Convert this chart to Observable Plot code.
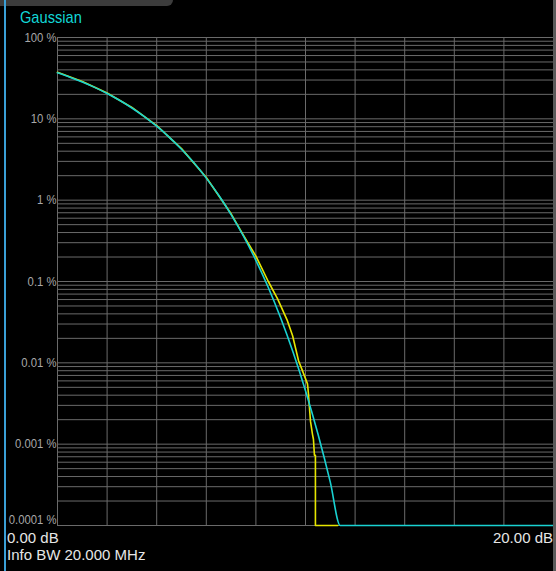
<!DOCTYPE html>
<html>
<head>
<meta charset="utf-8">
<script src="https://cdn.jsdelivr.net/npm/d3@7"></script>
<script src="https://cdn.jsdelivr.net/npm/@observablehq/plot@0.6"></script>
<style>
  html, body { margin: 0; padding: 0; background: #000; }
  #wrap { position: relative; width: 556px; height: 571px; background: #000; overflow: hidden;
          font-family: "Liberation Sans", Arial, sans-serif; }
  #wrap svg { position: absolute; left: 0; top: 0; }
  .lbl { position: absolute; white-space: nowrap; line-height: 14px; }
  .nl { transform: scaleX(0.86); transform-origin: left top; }
</style>
</head>
<body>
<div id="wrap">
  <div class="lbl" style="left:0;top:0;width:173px;height:6px;background:#3c3c3c;border-bottom-right-radius:6px;"></div>
  <div class="lbl" style="left:4px;top:0;width:2px;height:571px;background:#3a9fd6;"></div>
  <div class="lbl" style="left:553px;top:0;width:3px;height:571px;background:#5a5a5a;"></div>
  <div class="lbl nl" style="left:20px;top:11px;font-size:17px;color:#12d6d6;">Gaussian</div>
  <div class="lbl" style="left:7px;top:531.3px;font-size:15px;color:#e6e6e6;">0.00 dB</div>
  <div class="lbl" style="right:3px;top:531.3px;font-size:15px;color:#e6e6e6;">20.00 dB</div>
  <div class="lbl" style="left:7px;top:548.3px;font-size:15px;color:#e6e6e6;">Info BW 20.000 MHz</div>
</div>
<script>
// Y axis decades (percent) and their labels
const yTicks = [100, 10, 1, 0.1, 0.01, 0.001, 0.0001];
const yTickLabels = ["100 %", "10 %", "1 %", "0.1 %", "0.01 %", "0.001 %", "0.0001 %"];
// X grid positions (dB)
const xGrid = [0, 2, 4, 6, 8, 10, 12, 14, 16, 18, 20];
const xDomain = [0, 20];

// Gaussian reference trace (cyan): level dB, CCDF %
const gaussDb  = [0, 0.5, 1, 1.5, 2, 2.5, 3, 3.5, 4, 4.5, 5, 5.5, 6, 6.5, 7, 7.5, 8, 8.5, 9, 9.5, 10, 10.5, 11, 11.4, 20];
const gaussPct = [36.79, 32.56, 28.40, 24.35, 20.50, 16.90, 13.60, 10.66, 8.11, 5.97, 4.23, 2.88, 1.867, 1.148, 0.665, 0.362, 0.182, 0.0843, 0.0355, 0.01347, 0.00454, 0.00134, 0.000341, 0.0001, 0.0001];

// Measured trace (yellow): level dB, CCDF %
const measDb  = [0, 1, 2, 3, 4, 5, 6, 7, 7.5, 8.0, 8.5, 8.87, 9.27, 9.48, 9.72, 9.88, 10.08, 10.12, 10.16, 10.2, 10.28, 10.32, 10.36, 10.40, 10.40, 11.3];
const measPct = [37.3, 28.8, 20.8, 13.8, 8.24, 4.30, 1.90, 0.68, 0.37, 0.205, 0.10, 0.0617, 0.033, 0.0215, 0.0106, 0.00796, 0.00551, 0.00414, 0.00278, 0.00192, 0.00133, 0.00115, 0.00073, 0.00073, 0.0001, 0.0001];

const gauss = gaussDb.map((x, i) => ({x, y: gaussPct[i]}));
const meas = measDb.map((x, i) => ({x, y: measPct[i]}));

// minor grid lines: 1..9 within each decade
const yGrid = [];
for (let k = -4; k < 2; k++) for (let m = 1; m < 10; m++) yGrid.push(+(m * Math.pow(10, k)).toPrecision(3));
yGrid.push(100);

const labelMap = new Map(yTicks.map((t, i) => [t, yTickLabels[i]]));
const axisOpts = {label: null, tickSize: 0, tickPadding: 1, tickFormat: d => labelMap.get(d), fill: "#a8a8a8", fontSize: 13};

const chart = Plot.plot({
  width: 556,
  height: 571,
  marginLeft: 57,
  marginRight: 3,
  marginTop: 37,
  marginBottom: 46,
  style: {background: "transparent", color: "#a8a8a8", fontFamily: "Liberation Sans, Arial, sans-serif"},
  x: {domain: xDomain, axis: null},
  y: {type: "log", domain: [0.0001, 100], axis: null},
  marks: [
    Plot.ruleY(yGrid, {stroke: "#6a6a6a", strokeWidth: 1}),
    Plot.ruleX(xGrid, {stroke: "#6a6a6a", strokeWidth: 1}),
    Plot.axisY(yTicks.slice(0, -1), axisOpts),
    Plot.axisY(yTicks.slice(-1), {...axisOpts, dy: -6}),
    Plot.line(meas, {x: "x", y: "y", stroke: "#e6e600", strokeWidth: 1.6, curve: "linear"}),
    Plot.line(gauss, {x: "x", y: "y", stroke: "#19d2d2", strokeWidth: 1.6, curve: "monotone-x"})
  ]
});
// condense tick label glyphs horizontally (instrument-style narrow font)
chart.querySelectorAll("text").forEach(t => {
  const tr = t.getAttribute("transform") || "";
  t.setAttribute("transform", tr + " scale(0.87,1)");
});
document.getElementById("wrap").insertBefore(chart, document.getElementById("wrap").firstChild);
</script>
</body>
</html>
